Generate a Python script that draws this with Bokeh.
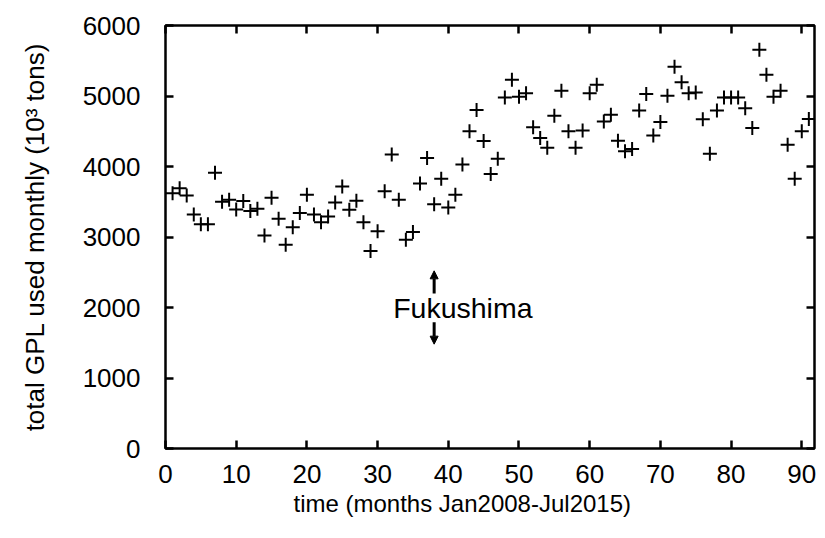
from bokeh.plotting import figure
from bokeh.models import (Range1d, LinearAxis, FixedTicker, Label, Arrow, NormalHead,
                          ColumnDataSource, Title)
from bokeh.embed import file_html
from bokeh.resources import INLINE

# ---- data ----
months = list(range(1, 92))
gpl_used = [3620, 3690, 3590, 3320, 3180, 3180, 3910, 3500, 3530, 3390,
            3510, 3370, 3400, 3020, 3555, 3260, 2890, 3140, 3340, 3600,
            3320, 3210, 3290, 3490, 3715, 3385, 3515, 3210, 2800, 3080,
            3650, 4170, 3530, 2960, 3070, 3760, 4120, 3465, 3825, 3420,
            3600, 4030, 4500, 4800, 4360, 3895, 4110, 4980, 5230, 4990,
            5040, 4555, 4405, 4265, 4720, 5075, 4500, 4265, 4510, 5040,
            5160, 4640, 4735, 4365, 4215, 4250, 4795, 5030, 4440, 4630,
            5005, 5415, 5195, 5040, 5050, 4670, 4180, 4795, 4980, 4980,
            4980, 4825, 4545, 5655, 5300, 4990, 5075, 4310, 3825, 4500,
            4675]
x_ticks = [0, 10, 20, 30, 40, 50, 60, 70, 80, 90]
y_ticks = [0, 1000, 2000, 3000, 4000, 5000, 6000]
event_month = 38
event_label = "Fukushima"
arrow_up = (2200, 2520)
arrow_down = (1790, 1480)
label_pos = (32.2, 2000)
x_title = "time (months Jan2008-Jul2015)"
y_title = "total GPL used monthly (10\u00b3 tons)"

FONT = "Liberation Sans"
TICK_FS = "26px"

p = figure(width=822, height=535, output_backend="svg", toolbar_location=None,
           x_range=Range1d(0, 91.8), y_range=Range1d(0, 6000),
           min_border_left=165, min_border_top=25, min_border_right=8,
           min_border_bottom=87, frame_width=649, frame_height=423,
           y_axis_label=y_title)

p.xgrid.visible = False
p.ygrid.visible = False
p.background_fill_color = "white"
p.border_fill_color = "white"
p.outline_line_color = "black"
p.outline_line_width = 2.5

for ax, ticks in ((p.xaxis[0], x_ticks), (p.yaxis[0], y_ticks)):
    ax.ticker = FixedTicker(ticks=ticks)
    ax.major_tick_in = 8
    ax.major_tick_out = 0
    ax.major_tick_line_width = 2.5
    ax.major_tick_line_color = "black"
    ax.minor_tick_line_color = None
    ax.axis_line_color = None
    ax.major_label_text_font = FONT
    ax.major_label_text_font_size = TICK_FS
    ax.major_label_text_color = "black"
    ax.axis_label_text_font = FONT
    ax.axis_label_text_font_size = "26px"
    ax.axis_label_text_font_style = "normal"
    ax.axis_label_text_color = "black"

p.yaxis[0].major_label_standoff = 25
p.yaxis[0].axis_label_standoff = 30
p.xaxis[0].major_label_standoff = 16

# x-axis title (left-offset like the reference)
p.add_layout(Title(text=x_title, align="left", offset=128, text_font=FONT,
                   text_font_size="24px", text_font_style="normal",
                   text_color="black", standoff=5), "below")

# mirrored ticks on top and right
for loc, ticks in (("above", x_ticks), ("right", y_ticks)):
    ax = LinearAxis(ticker=FixedTicker(ticks=ticks),
                    major_label_overrides={t: "" for t in ticks})
    ax.major_tick_in = 8
    ax.major_tick_out = 0
    ax.major_tick_line_width = 2.5
    ax.minor_tick_line_color = None
    ax.axis_line_color = None
    ax.major_label_standoff = 0
    ax.major_label_text_font_size = "1px"
    p.add_layout(ax, loc)

src = ColumnDataSource(dict(x=months, y=gpl_used))
p.scatter("x", "y", source=src, marker="cross", size=14, line_width=2,
          line_color="black")

for (y0, y1) in (arrow_up, arrow_down):
    p.add_layout(Arrow(x_start=event_month, y_start=y0, x_end=event_month, y_end=y1,
                       line_width=3, line_color="black",
                       end=NormalHead(size=8, line_color="black", fill_color="black",
                                      line_width=1)))

p.add_layout(Label(x=label_pos[0], y=label_pos[1], text=event_label,
                   text_font=FONT, text_font_size="28.5px", text_baseline="middle",
                   text_align="left", text_color="black"))

open("out.html", "w").write(file_html(p, INLINE))
